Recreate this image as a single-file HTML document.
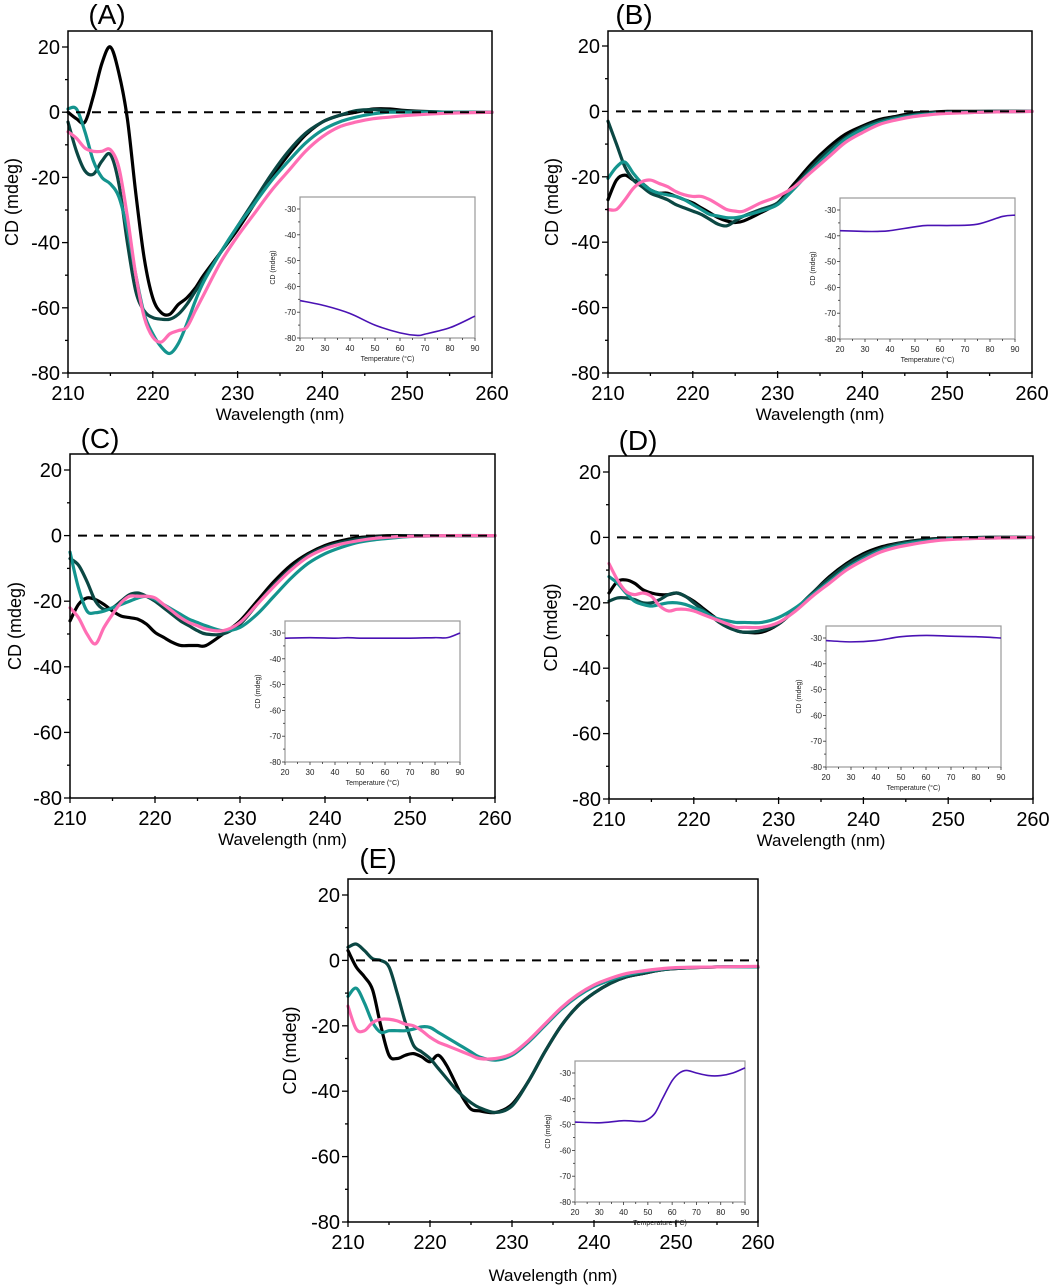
<!DOCTYPE html>
<html><head><meta charset="utf-8">
<style>
html,body{margin:0;padding:0;background:#fff;}
svg{display:block;font-family:"Liberation Sans",Arial,sans-serif;}
</style></head>
<body>
<svg id="fig" width="1052" height="1286" viewBox="0 0 1052 1286" xmlns="http://www.w3.org/2000/svg"></svg>
<script>
// ---- data ----
const wavelengths = [210,211,212,213,214,215,216,217,218,219,220,221,222,223,224,225,226,228,230,232,234,236,238,240,242,244,246,248,250,255,260];
const seriesNames = ["black","darkteal","teal","pink"];
const seriesColors = ["#000000","#0b4743","#14948e","#ff6eb4"];
const A_black = [0,-2,-3,5,15,20,12,-2,-25,-45,-57,-61.5,-62,-59,-57,-54,-50,-43,-36,-28,-20,-13,-7,-3,-1,0,1,1,0.5,0,0];
const A_darkteal = [-3,-12,-18,-19,-15,-13,-22,-40,-55,-61,-63,-63.5,-63.5,-62,-59,-55,-51,-43,-35,-27,-19,-12,-6.5,-3,-1,0.5,0.8,0.5,0.3,0,0];
const A_teal = [1,1,-6,-15,-20,-22,-26,-36,-50,-62,-68,-72,-74,-71,-65,-58,-52,-43,-35,-28,-21,-15,-9.5,-5.5,-3,-1.5,-0.5,0,0,0,0];
const A_pink = [-6,-8,-11,-12,-12,-11.5,-17,-32,-50,-63,-69,-70.5,-68,-67,-66,-61,-56,-46,-38,-31,-24,-18,-12,-7.5,-4.5,-3,-2,-1.5,-1,-0.3,0];
const B_black = [-27,-21,-19.5,-21,-22,-24,-25,-25,-26,-27,-28,-29.5,-31,-32.5,-33.5,-34,-33.5,-31,-28,-22,-16,-11,-7,-4.5,-2.5,-1.5,-0.5,-0.3,0,0,0];
const B_darkteal = [-3,-10,-17,-21,-23,-25,-26,-27,-28.5,-29.5,-30.5,-31.5,-33,-34.5,-35,-33.5,-32,-30,-28,-23,-17,-12,-8,-5,-3,-1.8,-1,-0.5,-0.2,0,0];
const B_teal = [-20.5,-17,-15.5,-19,-22,-24,-25,-25.5,-26,-27,-28.5,-30,-31.5,-32,-32.5,-32.5,-32,-30.5,-28.5,-23.5,-18,-13,-8.5,-5.5,-3.5,-2.2,-1.3,-0.8,-0.5,-0.2,0];
const B_pink = [-30,-30,-27,-23.5,-21.5,-21,-22,-23,-24.5,-25.5,-26,-26,-27,-28.5,-30,-30.5,-30.5,-28,-26,-23,-18.5,-14,-9.5,-6.5,-4,-2.6,-1.6,-1,-0.6,-0.2,0];
const C_black = [-26,-21,-19,-19.5,-21,-23,-24.5,-25,-25.5,-27,-29.5,-31,-32.5,-33.5,-33.5,-33.5,-33.5,-30,-26,-20,-14,-9,-5.5,-3,-1.5,-0.6,-0.2,0,0,0,0];
const C_darkteal = [-7,-9,-14,-20,-22.5,-22,-20,-18,-17.5,-18.5,-20,-22,-24,-26,-27.5,-29,-30,-30,-27,-21,-15,-10,-6,-3.5,-2,-1,-0.5,-0.2,0,0,0];
const C_teal = [-5,-16,-23,-23.5,-23,-22,-21,-20,-19,-18.5,-19.5,-21,-22.5,-24,-25.5,-26.5,-27.5,-29,-28,-24,-18.5,-13,-8.5,-5.5,-3.5,-2,-1.2,-0.7,-0.3,0,0];
const C_pink = [-22,-25,-30,-33,-28,-24,-20.5,-18.5,-18.5,-18.5,-19,-21,-23,-25,-26.5,-27.5,-28.5,-29,-26.5,-21,-15.5,-10.5,-6.5,-4,-2.5,-1.5,-0.8,-0.4,-0.2,0,0];
const D_black = [-17,-13.5,-13,-14,-16,-17,-17.5,-17.5,-17,-18,-19.5,-21.5,-23.5,-25.5,-27,-28.5,-29,-29,-26.5,-22,-17,-12,-8,-5,-3,-1.8,-1,-0.5,-0.2,0,0];
const D_darkteal = [-19.5,-18.5,-18.5,-19,-20,-20,-19,-17.5,-17,-18,-20,-22,-24,-26,-27.5,-28.5,-29,-28.5,-26.5,-22,-17,-12.5,-8.5,-5.5,-3.5,-2,-1.2,-0.7,-0.3,0,0];
const D_teal = [-12,-14,-17,-19.5,-20.5,-21,-20.5,-20,-20,-20.5,-21.5,-22.5,-24,-25,-25.5,-26,-26,-26,-24.5,-21.5,-17.5,-13.5,-9.5,-6.5,-4,-2.5,-1.5,-1,-0.5,-0.2,0];
const D_pink = [-8,-13,-16.5,-17.5,-17,-18,-21,-22.5,-22,-22,-22.5,-23.5,-24.5,-25.5,-26.5,-27.5,-27.5,-27.5,-26,-22.5,-18,-14,-10,-7,-4.5,-3,-2,-1.2,-0.7,-0.2,0];
const E_black = [3,-2,-5,-9,-20,-29,-30,-29,-28.5,-29.5,-31,-29,-32,-37,-42,-45.5,-46,-46.5,-44,-37,-28,-20,-14,-10,-7,-5,-4,-3,-2.5,-2,-2];
const E_darkteal = [4,5,3,0.5,0,-2,-10,-19,-26,-28,-30,-33,-36,-39,-41.5,-43.5,-45,-46.5,-44.5,-37,-28,-20,-14,-10,-7,-5,-4,-3,-2.5,-2,-2];
const E_teal = [-11,-8.5,-13,-19,-22,-21.5,-21.5,-21.5,-21,-20.3,-20.5,-22,-23.5,-25,-26.5,-28,-29.5,-30.5,-29,-25,-20,-15,-11,-8,-6,-4.5,-3.5,-2.8,-2.3,-2,-2];
const E_pink = [-14,-21,-21.5,-19,-18,-18,-18.5,-19.5,-20,-21.5,-23.5,-25,-26,-27,-28,-29,-30,-30,-28.5,-24.5,-19.5,-14.5,-10.5,-7.5,-5.5,-4,-3.2,-2.6,-2.2,-2,-1.8];
// insets (temperature melts)
const A_temps = [20,30,40,50,60,67,70,80,90];
const A_melt = [-65.5,-67.5,-70.5,-75,-78,-79,-78.5,-76,-71.5];
const B_temps = [20,30,35,40,50,55,65,75,85,90];
const B_melt = [-38,-38.3,-38.3,-38,-36.5,-36,-36,-35.5,-32.5,-32];
const C_temps = [20,30,40,45,50,60,70,80,85,90];
const C_melt = [-32,-31.8,-32,-31.8,-32,-32,-32,-31.8,-31.8,-30];
const D_temps = [20,30,40,50,60,70,80,90];
const D_melt = [-31,-31.5,-31,-29.5,-29,-29.3,-29.5,-30];
const E_temps = [20,30,40,47,50,53,56,60,63,66,70,75,80,85,90];
const E_melt = [-49,-49.3,-48.5,-48.8,-48,-45.5,-40,-33,-30,-29,-30,-31,-31,-30,-28];
const xTickLabels = ["210","220","230","240","250","260"];
const yTickLabels = ["20","0","-20","-40","-60","-80"];
const insetXTicks = ["20","30","40","50","60","70","80","90"];
const insetYTicks = ["-30","-40","-50","-60","-70","-80"];

// ---- layout ----
const panels = [
 {id:"A", L:68,R:492,T:31,B:373,y20:47, lab:[107,14], ytx:12, inset:{L:300,R:475,T:197,B:338,y30:209}, series:[A_black,A_darkteal,A_teal,A_pink], temps:A_temps, melt:A_melt},
 {id:"B", L:608,R:1032,T:31,B:373,y20:46, lab:[634,14], ytx:552, inset:{L:840,R:1015,T:198,B:339,y30:210}, series:[B_black,B_darkteal,B_teal,B_pink], temps:B_temps, melt:B_melt},
 {id:"C", L:70,R:495,T:454,B:798,y20:470, lab:[100,438], ytx:15, inset:{L:285,R:460,T:621,B:762,y30:633}, series:[C_black,C_darkteal,C_teal,C_pink], temps:C_temps, melt:C_melt},
 {id:"D", L:609,R:1033,T:456,B:799,y20:472, lab:[638,440], ytx:551, inset:{L:826,R:1001,T:626,B:767,y30:638}, series:[D_black,D_darkteal,D_teal,D_pink], temps:D_temps, melt:D_melt},
 {id:"E", L:348,R:758,T:879,B:1222,y20:895, lab:[378,858], ytx:290, inset:{L:575,R:745,T:1061,B:1202,y30:1073}, series:[E_black,E_darkteal,E_teal,E_pink], temps:E_temps, melt:E_melt}
];
const NS="http://www.w3.org/2000/svg";
const svg=document.getElementById("fig");
function mk(tag,attrs,parent){const e=document.createElementNS(NS,tag);for(const k in attrs)e.setAttribute(k,attrs[k]);(parent||svg).appendChild(e);return e;}
function smooth(pts){let d="M"+pts[0][0].toFixed(2)+","+pts[0][1].toFixed(2);
 for(let i=0;i<pts.length-1;i++){const p0=pts[Math.max(0,i-1)],p1=pts[i],p2=pts[i+1],p3=pts[Math.min(pts.length-1,i+2)];
  const c1x=p1[0]+(p2[0]-p0[0])/6,c1y=p1[1]+(p2[1]-p0[1])/6,c2x=p2[0]-(p3[0]-p1[0])/6,c2y=p2[1]-(p3[1]-p1[1])/6;
  d+=" C"+c1x.toFixed(2)+","+c1y.toFixed(2)+" "+c2x.toFixed(2)+","+c2y.toFixed(2)+" "+p2[0].toFixed(2)+","+p2[1].toFixed(2);}
 return d;}

panels.forEach(p=>{
 const g=mk("g",{});
 
 
 const xs=v=>p.L+(v-210)/50*(p.R-p.L);
 const ys=v=>p.B-(v+80)/100*(p.B-p.y20);
 const lab=mk("text",{x:p.lab[0],y:p.lab[1]+10,"font-size":28,"text-anchor":"middle"},g);lab.textContent="("+p.id+")";
 
 
 p.series.forEach((arr,si)=>{
  const pts=wavelengths.map((w,i)=>[xs(w),ys(arr[i])]);
  const path=mk("path",{d:smooth(pts),fill:"none",stroke:seriesColors[si],"stroke-width":3.2,"stroke-linejoin":"round","stroke-linecap":"round"},g);
  
  
 });
 const dash=mk("line",{x1:p.L+8,x2:p.R,y1:ys(0),y2:ys(0),stroke:"#000","stroke-width":2,"stroke-dasharray":"9,7"},g);
 
 
 const fr=mk("rect",{x:p.L,y:p.T,width:p.R-p.L,height:p.B-p.T,fill:"none",stroke:"#000","stroke-width":1.5},g);
 
 
 for(let w=210;w<=260;w+=5){const x=xs(w);const major=(w%10===0);
  mk("line",{x1:x,x2:x,y1:p.B-(major?2:0),y2:p.B+(major?5:3),stroke:"#000","stroke-width":1.3},g);}
 xTickLabels.forEach(t=>{const tx=mk("text",{x:xs(+t),y:p.B+27,"font-size":20,"text-anchor":"middle"},g);tx.textContent=t;
  
  });
 for(let v=-80;v<=20;v+=10){const y=ys(v);const major=(v%20===0);
  mk("line",{x1:p.L-(major?6:3),x2:p.L,y1:y,y2:y,stroke:"#000","stroke-width":1.3},g);}
 yTickLabels.forEach(t=>{const tx=mk("text",{x:p.L-8,y:ys(+t)+7,"font-size":20,"text-anchor":"end"},g);tx.textContent=t;
  
  });
 const xt=mk("text",{x:(p.L+p.R)/2,y:(p.id==="E"?1281:p.B+47),"font-size":17,"text-anchor":"middle"},g);xt.textContent="Wavelength (nm)";
 
 
 const cy=(p.T+p.B)/2;
 const yt=mk("text",{x:p.ytx,y:cy,"font-size":18,"text-anchor":"middle",transform:"rotate(-90 "+p.ytx+" "+cy+")",dy:6},g);yt.textContent="CD (mdeg)";
 
 
 const I=p.inset;
 const ig=mk("g",{},g);
 
 
 const ix=v=>I.L+(v-20)/70*(I.R-I.L);
 const iy=v=>I.B-(v+80)/50*(I.B-I.y30);
 mk("rect",{x:I.L,y:I.T,width:I.R-I.L,height:I.B-I.T,fill:"#fff",stroke:"#999","stroke-width":1.2},ig);
 const mp=mk("path",{d:smooth(p.temps.map((t,i)=>[ix(t),iy(p.melt[i])])),fill:"none",stroke:"#4a12b4","stroke-width":1.6},ig);
 
 
 for(let t=20;t<=90;t+=5){mk("line",{x1:ix(t),x2:ix(t),y1:I.B,y2:I.B+(t%10===0?3:2),stroke:"#333","stroke-width":0.8},ig);}
 for(let v=-80;v<=-30;v+=5){mk("line",{x1:I.L-(v%10===0?3:2),x2:I.L,y1:iy(v),y2:iy(v),stroke:"#333","stroke-width":0.8},ig);}
 insetXTicks.forEach(t=>{const tx=mk("text",{x:ix(+t),y:I.B+13,"font-size":8,"text-anchor":"middle",fill:"#222"},ig);tx.textContent=t;
  
  });
 insetYTicks.forEach(t=>{const tx=mk("text",{x:I.L-4,y:iy(+t)+3,"font-size":8,"text-anchor":"end",fill:"#222"},ig);tx.textContent=t;
  
  });
 const itx=mk("text",{x:(I.L+I.R)/2,y:I.B+23,"font-size":7,"text-anchor":"middle",fill:"#222"},ig);itx.textContent="Temperature (°C)";
 
 
 const icx=I.L-25,icy=(I.T+I.B)/2;
 const ity=mk("text",{x:icx,y:icy,"font-size":7,"text-anchor":"middle",fill:"#222",transform:"rotate(-90 "+icx+" "+icy+")"},ig);ity.textContent="CD (mdeg)";
 
 
});
</script>
</body></html>
